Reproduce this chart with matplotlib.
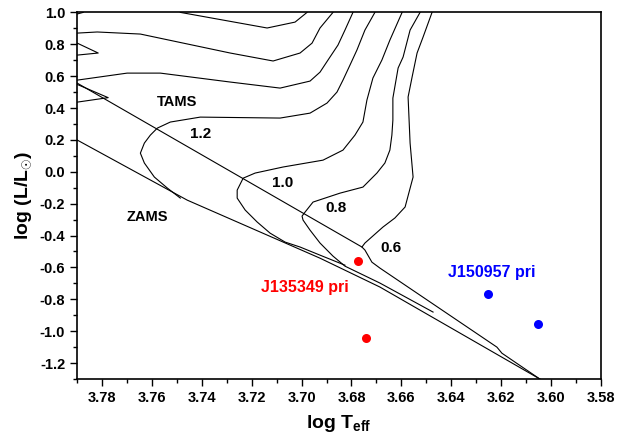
import matplotlib
matplotlib.use("Agg")
import matplotlib.pyplot as plt
from matplotlib.ticker import MultipleLocator, FormatStrFormatter

plt.rcParams['font.family'] = ['Liberation Sans', 'DejaVu Sans']
plt.rcParams['font.weight'] = 'bold'
plt.rcParams['mathtext.fontset'] = 'custom'
plt.rcParams['mathtext.rm'] = 'Liberation Sans:bold'
plt.rcParams['mathtext.bf'] = 'Liberation Sans:bold'
plt.rcParams['mathtext.it'] = 'Liberation Sans:bold'
plt.rcParams['axes.unicode_minus'] = False

# ZAMS / TAMS lines
zams_t = [3.7899, 3.7458, 3.6926, 3.6686, 3.6045]
zams_l = [0.199, -0.178, -0.542, -0.723, -1.30]
tams_t = [3.7899, 3.6758]
tams_l = [0.556, -0.472]

# evolutionary tracks (log Teff, log L)
trk06_t = [3.6045, 3.6197, 3.6217, 3.6686, 3.6718, 3.6746, 3.6758, 3.6746, 3.6674, 3.6626,
           3.6585, 3.6553, 3.6565, 3.6573, 3.6557, 3.6537, 3.6513, 3.6477]
trk06_l = [-1.30, -1.138, -1.100, -0.604, -0.567, -0.491, -0.472, -0.447, -0.347, -0.290,
           -0.221, -0.033, 0.180, 0.469, 0.594, 0.745, 0.845, 1.0]
trk08_t = [3.6473, 3.6686, 3.6826, 3.6874, 3.6926, 3.6966, 3.6994, 3.6998, 3.6986, 3.6954,
           3.6846, 3.6754, 3.6698, 3.6666, 3.6646, 3.6638, 3.6634, 3.6634, 3.6613, 3.6593,
           3.6565, 3.6525]
trk08_l = [-0.880, -0.698, -0.592, -0.529, -0.447, -0.366, -0.303, -0.278, -0.253, -0.190,
           -0.134, -0.096, -0.008, 0.055, 0.136, 0.230, 0.324, 0.462, 0.651, 0.720,
           0.889, 1.0]
trk10_t = [3.6826, 3.6926, 3.7006, 3.7066, 3.7126, 3.7178, 3.7226, 3.7258, 3.7258, 3.7234,
           3.7186, 3.7074, 3.6914, 3.6834, 3.6786, 3.6754, 3.6738, 3.6714, 3.6678, 3.6646,
           3.6597]
trk10_l = [-0.586, -0.523, -0.472, -0.441, -0.385, -0.315, -0.240, -0.165, -0.115, -0.040,
           -0.008, 0.030, 0.073, 0.136, 0.230, 0.312, 0.450, 0.588, 0.701, 0.826,
           1.0]
trk12_t = [3.7486, 3.7538, 3.7590, 3.7630, 3.7646, 3.7630, 3.7606, 3.7578, 3.7526, 3.7406,
           3.7086, 3.6966, 3.6898, 3.6858, 3.6834, 3.6806, 3.6778, 3.6746, 3.6706]
trk12_l = [-0.165, -0.102, -0.033, 0.055, 0.117, 0.180, 0.230, 0.274, 0.312, 0.343,
           0.337, 0.368, 0.431, 0.500, 0.575, 0.669, 0.764, 0.889, 1.0]
trk14_t = [3.7899, 3.7699, 3.7566, 3.7286, 3.7086, 3.6966, 3.6926, 3.6894, 3.6854, 3.6826, 3.6794]
trk14_l = [0.575, 0.619, 0.619, 0.563, 0.525, 0.569, 0.625, 0.701, 0.795, 0.889, 1.0]
hook14_t = [3.7899, 3.7775, 3.7899]
hook14_l = [0.437, 0.465, 0.548]
trk16_t = [3.7899, 3.7819, 3.7646, 3.7286, 3.7114, 3.7006, 3.6958, 3.6926, 3.6874]
trk16_l = [0.870, 0.877, 0.864, 0.745, 0.695, 0.745, 0.807, 0.902, 1.0]
hook16_t = [3.7899, 3.7815, 3.7899]
hook16_l = [0.807, 0.745, 0.732]
trk18_t = [3.7486, 3.7138, 3.7026, 3.6978]
trk18_l = [1.0, 0.902, 0.939, 1.0]
trk20_t = [3.7899, 3.7875]
trk20_l = [0.99, 1.0]

# stars
red_t = [3.6773, 3.6741]
red_l = [-0.560, -1.043]
blue_t = [3.6253, 3.6053]
blue_l = [-0.767, -0.956]

fig = plt.figure(figsize=(6.26, 4.42), dpi=100)
ax = fig.add_axes([0.123, 0.1425, 0.837, 0.8295])

lines = [(zams_t, zams_l), (tams_t, tams_l), (trk06_t, trk06_l), (trk08_t, trk08_l),
         (trk10_t, trk10_l), (trk12_t, trk12_l), (trk14_t, trk14_l), (hook14_t, hook14_l),
         (trk16_t, trk16_l), (hook16_t, hook16_l), (trk18_t, trk18_l), (trk20_t, trk20_l)]
for t, l in lines:
    ax.plot(t, l, color='black', lw=0.8)

ax.plot(red_t, red_l, 'o', color='#ff0000', ms=6.5, mec='none')
ax.plot(blue_t, blue_l, 'o', color='#0000ff', ms=6.5, mec='none')

ax.text(3.7498, 0.437, 'TAMS', fontsize=10.5, fontweight='bold', ha='center', va='center')
ax.text(3.7618, -0.284, 'ZAMS', fontsize=10.5, fontweight='bold', ha='center', va='center')
ax.text(3.7406, 0.236, '1.2', fontsize=11, fontweight='bold', ha='center', va='center')
ax.text(3.7074, -0.071, '1.0', fontsize=11, fontweight='bold', ha='center', va='center')
ax.text(3.6862, -0.228, '0.8', fontsize=11, fontweight='bold', ha='center', va='center')
ax.text(3.6641, -0.479, '0.6', fontsize=11, fontweight='bold', ha='center', va='center')
ax.text(3.6986, -0.723, 'J135349 pri', fontsize=11.5, fontweight='bold', color='#ff0000',
        ha='center', va='center')
ax.text(3.6237, -0.629, 'J150957 pri', fontsize=11.5, fontweight='bold', color='#0000ff',
        ha='center', va='center')

ax.set_xlim(3.79, 3.58)
ax.set_ylim(-1.3, 1.0)
ax.xaxis.set_major_locator(MultipleLocator(0.02))
ax.xaxis.set_minor_locator(MultipleLocator(0.01))
ax.yaxis.set_major_locator(MultipleLocator(0.2))
ax.yaxis.set_minor_locator(MultipleLocator(0.1))
ax.xaxis.set_major_formatter(FormatStrFormatter('%.2f'))
ax.yaxis.set_major_formatter(FormatStrFormatter('%.1f'))
ax.tick_params(which='both', direction='out', top=False, right=False, width=1.0,
               labelsize=10.5)
ax.tick_params(which='major', length=5)
ax.tick_params(which='minor', length=3)
for s in ax.spines.values():
    s.set_linewidth(1.2)

ax.set_xlabel(r'log T$_{\mathregular{eff}}$', fontsize=14, fontweight='bold', labelpad=6)
ax.set_ylabel(r'log (L/L$_{\odot}$)', fontsize=14, fontweight='bold', labelpad=4)

fig.savefig('out.png', dpi=100)
